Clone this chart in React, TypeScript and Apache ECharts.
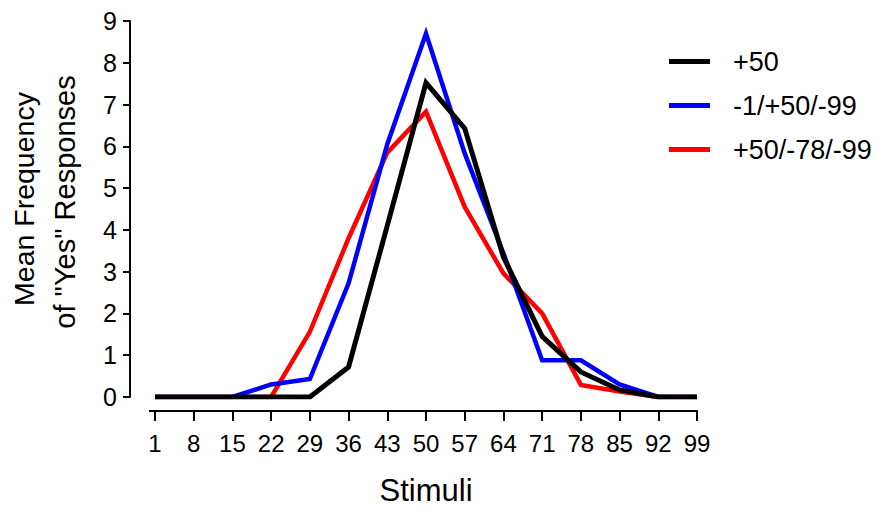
import React, { useEffect, useRef } from "react";
import * as echarts from "echarts";

const stimuli = ["1", "8", "15", "22", "29", "36", "43", "50", "57", "64", "71", "78", "85", "92", "99"];
const seriesNames = ["+50", "-1/+50/-99", "+50/-78/-99"];
const plus50 = [0, 0, 0, 0, 0, 0.72, 4.1, 7.52, 6.43, 3.35, 1.45, 0.6, 0.17, 0, 0];
const minus1Plus50Minus99 = [0, 0, 0, 0.3, 0.43, 2.72, 6.05, 8.7, 5.83, 3.44, 0.88, 0.88, 0.3, 0, 0];
const plus50Minus78Minus99 = [0, 0, 0, 0, 1.56, 3.8, 5.85, 6.83, 4.55, 2.96, 2.0, 0.29, 0.13, 0, 0];
const yTicks = [0, 1, 2, 3, 4, 5, 6, 7, 8, 9];

const SANS = "'Liberation Sans', Arial, sans-serif";

export default function App() {
  const ref = useRef<HTMLDivElement>(null);
  useEffect(() => {
    if (!ref.current) return;
    const chart = echarts.init(ref.current, undefined, { renderer: "svg" });
    const colors = ["#000000", "#0000ff", "#ff0000"];
    const datasets = [plus50, minus1Plus50Minus99, plus50Minus78Minus99];
    chart.setOption({
      animation: false,
      backgroundColor: "#ffffff",
      grid: { left: 155, right: 182, top: 21, bottom: 113, containLabel: false, outerBoundsMode: "none" },
      legend: {
        orient: "vertical",
        left: 669,
        top: 48,
        padding: 0,
        icon: "rect",
        itemWidth: 41,
        itemHeight: 5,
        itemGap: 17,
        data: seriesNames,
        textStyle: { fontFamily: SANS, fontSize: 27, color: "#000", padding: [0, 0, 0, 18] },
      },
      xAxis: {
        type: "category",
        data: stimuli,
        boundaryGap: false,
        offset: 14,
        axisLine: { show: true, onZero: false, lineStyle: { color: "#000", width: 2 } },
        axisTick: { show: true, length: 10, lineStyle: { color: "#000", width: 2 }, alignWithLabel: true, interval: 0 },
        axisLabel: { fontFamily: SANS, fontSize: 24, color: "#000", margin: 20, interval: 0 },
        name: "Stimuli",
        nameLocation: "middle",
        nameGap: 64,
        nameTextStyle: { fontFamily: SANS, fontSize: 31, color: "#000" },
        splitLine: { show: false },
      },
      yAxis: {
        type: "value",
        min: 0,
        max: 9,
        interval: 1,
        offset: 25,
        axisLine: { show: true, onZero: false, lineStyle: { color: "#000", width: 2 } },
        axisTick: { show: true, length: 7, lineStyle: { color: "#000", width: 2 } },
        axisLabel: {
          fontFamily: SANS,
          fontSize: 25,
          color: "#000",
          margin: 13,
          formatter: (v: number) => (yTicks.includes(v) ? String(v) : ""),
        },
        splitLine: { show: false },
      },
      graphic: [
        {
          type: "text",
          x: 24,
          y: 199,
          rotation: Math.PI / 2,
          style: { text: "Mean Frequency", fontFamily: SANS, fontSize: 28.5, fill: "#000", textAlign: "center", textVerticalAlign: "middle" },
        },
        {
          type: "text",
          x: 65,
          y: 202,
          rotation: Math.PI / 2,
          style: { text: 'of "Yes" Responses', fontFamily: SANS, fontSize: 29, fill: "#000", textAlign: "center", textVerticalAlign: "middle" },
        },
        {
          type: "line",
          shape: { x1: 149, y1: 411, x2: 156, y2: 411 },
          style: { stroke: "#000", lineWidth: 2 },
        },
      ],
      series: seriesNames.map((name, i) => ({
        name,
        type: "line",
        data: datasets[i],
        showSymbol: false,
        symbol: "none",
        z: 4 - i,
        lineStyle: { color: colors[i], width: i === 0 ? 5 : 4.5, join: "miter" },
        itemStyle: { color: colors[i] },
      })),
    });
    return () => chart.dispose();
  }, []);
  return <div ref={ref} style={{ position: "fixed", left: 0, top: 0, width: 879, height: 510 }} />;
}
